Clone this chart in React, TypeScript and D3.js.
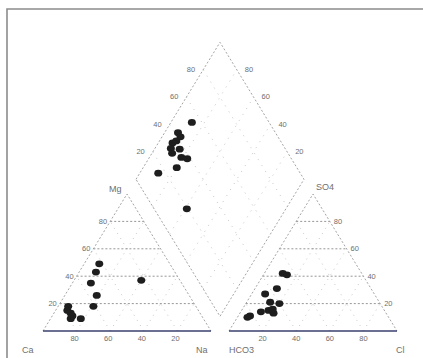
import React from "react";
import * as d3 from "d3";

// Cation samples (percent of meq): Ca, Mg, Na+K
const cationCa = [42, 47, 54, 55, 61, 23, 76, 78, 77, 79, 73, 77];
const cationMg = [49, 43, 35, 26, 18, 37, 18, 15, 13, 9, 9, 11];
const cationNa = [9, 10, 11, 19, 21, 40, 6, 7, 10, 12, 18, 12];

// Anion samples (percent of meq): HCO3, SO4, Cl
const anionSO4 = [41, 42, 31, 27, 21, 20, 15, 13, 11, 10, 14, 16];
const anionCl = [14, 11, 13, 8, 14, 20, 16, 20, 7, 6, 12, 18];

// Diamond field: Na+K share and SO4+Cl share
const diamondNaK = [12.5, 8, 11, 8.5, 9.5, 12, 19, 23, 20, 11, 41, 15, 10];
const diamondSO4Cl = [54, 42, 42, 35, 32, 31, 35, 38, 28.5, 15.5, 19.5, 37, 38];

const gridLevels = [20, 40, 60, 80];
const leftBaseTicks = ["80", "60", "40", "20"];
const rightBaseTicks = ["20", "40", "60", "80"];
const sideTicks = ["20", "40", "60", "80"];

const W = 423;
const H = 358;
const base = 331;
const side = 168;
const triH = 137;
const gap = 18;
const xCa = 43;
const xHCO3 = xCa + side + gap;
const xMid = xCa + side + gap / 2;
const diamondBottom = base - gap * (triH / side);
const Lx = xMid - side / 2;
const Ly = diamondBottom - triH;

const along = d3.scaleLinear().domain([0, 100]).range([0, side]);
const half = d3.scaleLinear().domain([0, 100]).range([0, side / 2]);
const up = d3.scaleLinear().domain([0, 100]).range([0, triH]);

const cation = (na: number, mg: number): [number, number] => [
  xCa + along(na) + half(mg),
  base - up(mg),
];
const anion = (cl: number, so4: number): [number, number] => [
  xHCO3 + along(cl) + half(so4),
  base - up(so4),
];
const diamond = (a: number, b: number): [number, number] => [
  Lx + half(a + b),
  Ly + up(a - b),
];

const line = d3.line();

const gridColor = "#b8b8b8";
const edgeColor = "#9a9a9a";
const textColor = "#6f6f6f";
const pointColor = "#1e1e1e";

function Triangle({ proj }: { proj: (p: number, q: number) => [number, number] }) {
  const lines: React.ReactNode[] = [];
  gridLevels.forEach((v) => {
    // constant apex share (horizontal)
    lines.push(
      <path key={"h" + v} d={line([proj(0, v), proj(100 - v, v)]) || ""}
        stroke="#8a8a8a" strokeWidth={0.9} strokeDasharray="2,2" fill="none" />
    );
    // constant right-vertex share
    lines.push(
      <path key={"r" + v} d={line([proj(v, 0), proj(v, 100 - v)]) || ""}
        stroke={gridColor} strokeWidth={0.8} strokeDasharray="1,5" fill="none" />
    );
    // constant left-vertex share
    lines.push(
      <path key={"l" + v} d={line([proj(100 - v, 0), proj(0, 100 - v)]) || ""}
        stroke={gridColor} strokeWidth={0.8} strokeDasharray="1,5" fill="none" />
    );
  });
  return (
    <g>
      {lines}
      <path d={line([proj(0, 0), proj(0, 100), proj(100, 0)]) || ""}
        stroke={edgeColor} strokeWidth={0.9} strokeDasharray="2,2" fill="none" />
      <path d={line([proj(0, 0), proj(100, 0)]) || ""} stroke="#3a3f6e" strokeWidth={1.6} fill="none" />
    </g>
  );
}

function Diamond() {
  const lines: React.ReactNode[] = [];
  gridLevels.forEach((v) => {
    lines.push(
      <path key={"a" + v} d={line([diamond(v, 0), diamond(v, 100)]) || ""}
        stroke={gridColor} strokeWidth={0.8} strokeDasharray="1,6" fill="none" />
    );
    lines.push(
      <path key={"b" + v} d={line([diamond(0, v), diamond(100, v)]) || ""}
        stroke={gridColor} strokeWidth={0.8} strokeDasharray="1,6" fill="none" />
    );
  });
  const outline = [diamond(0, 0), diamond(0, 100), diamond(100, 100), diamond(100, 0), diamond(0, 0)];
  return (
    <g>
      {lines}
      <path d={line(outline) || ""} stroke={edgeColor} strokeWidth={0.9} strokeDasharray="2,2" fill="none" />
      {sideTicks.map((t, i) => {
        const [x1, y1] = diamond(0, gridLevels[i]);
        const [x2, y2] = diamond(100 - gridLevels[i], 100);
        return (
          <g key={"dt" + t}>
            <text x={x1 - 8} y={y1 + 2} textAnchor="end" fontSize={7.5} fill={textColor}>{t}</text>
            <text x={x2 + 8} y={y2 + 2} textAnchor="start" fontSize={7.5} fill={textColor}>{t}</text>
          </g>
        );
      })}
    </g>
  );
}

export default function App() {
  const cationPts = cationCa.map((_, i) => cation(cationNa[i], cationMg[i]));
  const anionPts = anionSO4.map((_, i) => anion(anionCl[i], anionSO4[i]));
  const diamondPts = diamondNaK.map((a, i) => diamond(a, diamondSO4Cl[i]));
  return (
    <svg width={W} height={H} style={{ position: "absolute", left: 0, top: 0, background: "#fff" }}
      fontFamily="Liberation Sans, Arial, sans-serif">
      <path d={`M7,${H} L7,9 L${W},9`} stroke="#8c8c8c" strokeWidth={1.6} fill="none" />

      <Triangle proj={cation} />
      <Triangle proj={anion} />
      <Diamond />

      {/* left triangle: Mg scale and Ca scale */}
      {sideTicks.map((t, i) => {
        const [x, y] = cation(0, gridLevels[i]);
        return <text key={"mg" + t} x={x - 3} y={y + 2.5} textAnchor="end" fontSize={7.5} fill={textColor}>{t}</text>;
      })}
      {leftBaseTicks.map((t, i) => {
        const [x] = cation(gridLevels[i], 0);
        return <text key={"ca" + t} x={x - 2} y={base + 10} textAnchor="middle" fontSize={7.5} fill={textColor}>{t}</text>;
      })}

      {/* right triangle: SO4 scale and Cl scale */}
      {sideTicks.map((t, i) => {
        const [x, y] = anion(100 - gridLevels[i], gridLevels[i]);
        return <text key={"so" + t} x={x + 4} y={y + 2.5} textAnchor="start" fontSize={7.5} fill={textColor}>{t}</text>;
      })}
      {rightBaseTicks.map((t, i) => {
        const [x] = anion(gridLevels[i], 0);
        return <text key={"cl" + t} x={x} y={base + 10} textAnchor="middle" fontSize={7.5} fill={textColor}>{t}</text>;
      })}

      <text x={22} y={353} fontSize={9} fill={textColor}>Ca</text>
      <text x={196} y={353} fontSize={9} fill={textColor}>Na</text>
      <text x={229} y={353} fontSize={9} fill={textColor}>HCO3</text>
      <text x={396} y={353} fontSize={9} fill={textColor}>Cl</text>
      <text x={109} y={192} fontSize={9} fill={textColor}>Mg</text>
      <text x={316} y={190} fontSize={9} fill={textColor}>SO4</text>

      {cationPts.map(([x, y], i) => <ellipse key={"cp" + i} cx={x} cy={y} rx={4} ry={3.4} fill={pointColor} />)}
      {anionPts.map(([x, y], i) => <ellipse key={"ap" + i} cx={x} cy={y} rx={4} ry={3.4} fill={pointColor} />)}
      {diamondPts.map(([x, y], i) => <ellipse key={"dp" + i} cx={x} cy={y} rx={4} ry={3.4} fill={pointColor} />)}
    </svg>
  );
}
